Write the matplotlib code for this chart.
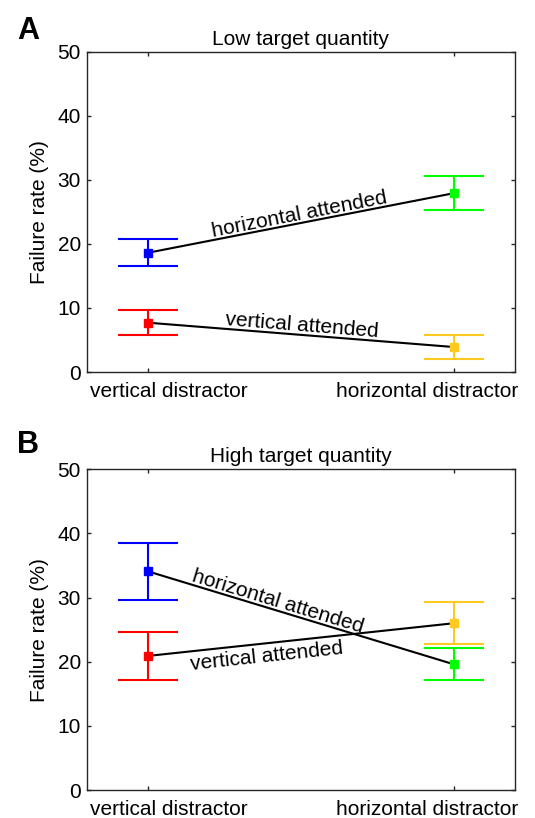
import numpy as np
import matplotlib
matplotlib.use('Agg')
import matplotlib.pyplot as plt
from matplotlib.transforms import ScaledTranslation

plt.rcParams['font.family'] = ['Liberation Sans', 'DejaVu Sans']
plt.rcParams['font.size'] = 15

conditions = ['vertical distractor', 'horizontal distractor']

# failure rates (%) and SEM, low target quantity
low_vert_mean = [7.7, 3.9]
low_vert_sem = [1.9, 1.85]
low_horiz_mean = [18.6, 27.9]
low_horiz_sem = [2.1, 2.7]

# high target quantity
high_vert_mean = [20.9, 26.0]
high_vert_sem = [3.7, 3.3]
high_horiz_mean = [34.1, 19.6]
high_horiz_sem = [4.4, 2.5]

vert_colors = ['#ff0000', '#ffca20']
horiz_colors = ['#0000ff', '#00ff00']
edge = '#262626'

x = np.array([1, 2])


def draw_panel(ax, title, vm, vs, hm, hs, vlab, hlab):
    ax.set_xlim(0.8, 2.2)
    ax.set_ylim(0, 50)
    for m, s, cols in [(vm, vs, vert_colors), (hm, hs, horiz_colors)]:
        ax.plot(x, m, color='k', lw=1.5, zorder=2)
        for i in range(2):
            ax.errorbar(x[i], m[i], yerr=s[i], fmt='s', color=cols[i],
                        ms=6, elinewidth=1.5, capsize=21.5, capthick=1.5,
                        zorder=3)
    # labels along the lines
    for m, txt, (xc, off, va) in [(vm, 'vertical attended', vlab),
                                  (hm, 'horizontal attended', hlab)]:
        yc = m[0] + (xc - 1) * (m[1] - m[0])
        p = ax.transData.transform([(1, m[0]), (2, m[1])])
        a = np.arctan2(p[1, 1] - p[0, 1], p[1, 0] - p[0, 0])
        ax.annotate(txt, xy=(xc, yc),
                    xytext=(-off * np.sin(a), off * np.cos(a)),
                    textcoords='offset points', ha='center', va=va,
                    rotation=np.degrees(a), rotation_mode='anchor',
                    fontsize=15)
    ax.set_xticks(x)
    ax.set_xticklabels(conditions)
    ax.set_yticks(range(0, 51, 10))
    ax.set_ylabel('Failure rate (%)', labelpad=6)
    ax.set_title(title, fontsize=15, pad=5)
    ax.tick_params(direction='in', length=3, width=1, color=edge,
                   top=True, right=True, labelsize=15)
    ax.tick_params(axis='x', pad=7)
    ax.tick_params(axis='y', pad=4)
    for sp in ax.spines.values():
        sp.set_color(edge)
        sp.set_linewidth(1)
    # keep the category labels inside the figure width
    lab = ax.get_xticklabels()
    lab[0].set_transform(lab[0].get_transform()
                         + ScaledTranslation(0.21, 0, fig.dpi_scale_trans))
    lab[1].set_ha('right')
    lab[1].set_transform(lab[1].get_transform()
                         + ScaledTranslation(0.64, 0, fig.dpi_scale_trans))


fig = plt.figure(figsize=(5.35, 8.18), dpi=100)
ax1 = fig.add_axes([0.1617, 0.5452, 0.801, 0.3918])
ax2 = fig.add_axes([0.1617, 0.0342, 0.801, 0.3921])

draw_panel(ax1, 'Low target quantity', low_vert_mean, low_vert_sem,
           low_horiz_mean, low_horiz_sem,
           (1.5, 2.5, 'baseline'), (1.5, 2.5, 'baseline'))
draw_panel(ax2, 'High target quantity', high_vert_mean, high_vert_sem,
           high_horiz_mean, high_horiz_sem,
           (1.383, -2.5, 'top'), (1.415, 2.5, 'baseline'))

fig.text(0.032, 0.952, 'A', fontsize=22, fontweight='bold', va='baseline')
fig.text(0.032, 0.446, 'B', fontsize=22, fontweight='bold', va='baseline')

fig.savefig('out.png', dpi=100)
